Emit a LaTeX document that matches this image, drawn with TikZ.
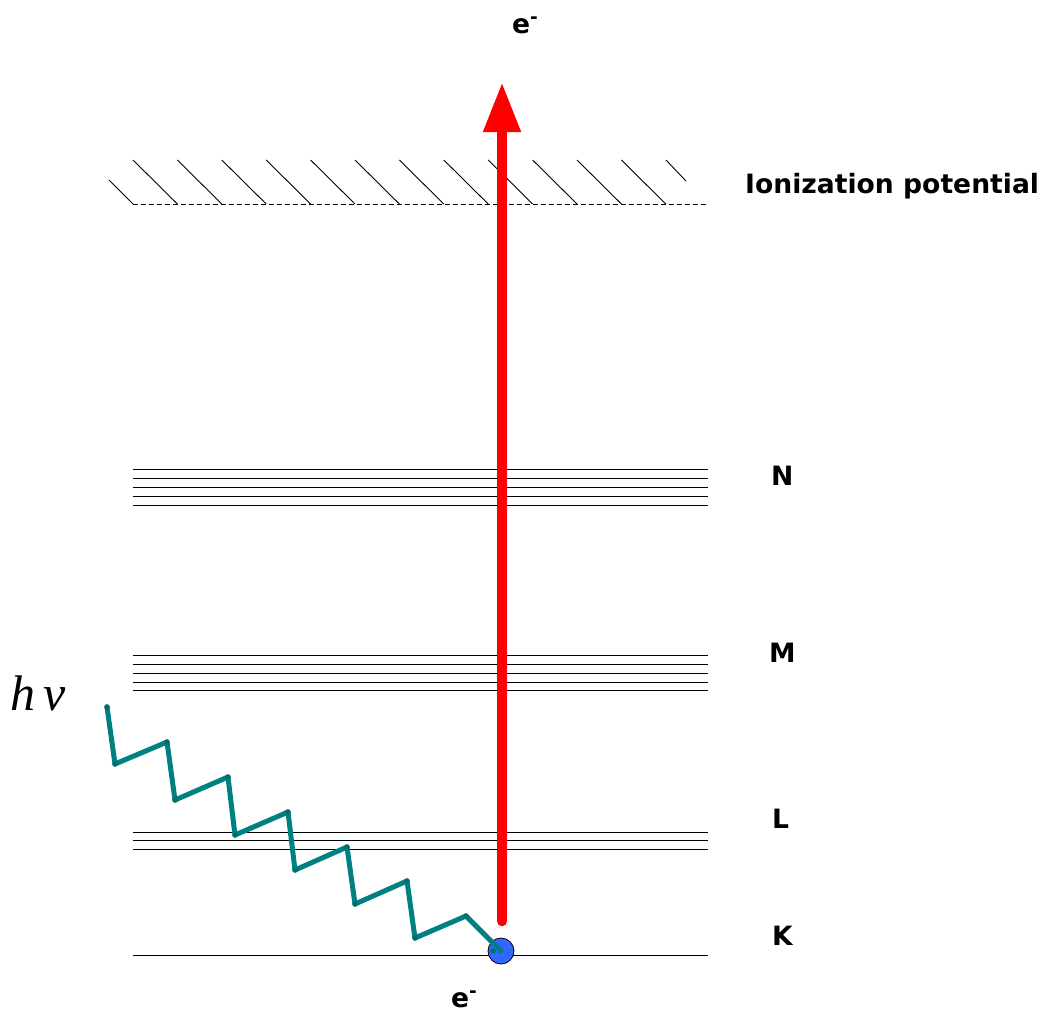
\documentclass[tikz,border=0pt]{standalone}
\usepackage{fontspec}
\setmainfont{DejaVu Sans}
\newfontfamily\hvfont{Liberation Serif}
\usetikzlibrary{arrows.meta}
\definecolor{wavecol}{RGB}{0,128,128}
\definecolor{elcol}{RGB}{51,102,255}
\definecolor{arrowred}{RGB}{255,0,0}
\begin{document}
\begin{tikzpicture}[x=1pt,y=-1pt,
  level/.style={line width=1pt, black},
  hatchline/.style={line width=0.9pt, black},
  lbl/.style={font=\fontsize{26.6}{30}\selectfont\bfseries, anchor=base west, inner sep=0pt},
  wave/.style={wavecol, line width=5pt, line join=round, line cap=round},
  vdot/.style={fill=wavecol!85!black, draw=none},
  electron/.style={circle, fill=elcol, draw=black, line width=0.8pt, minimum size=26pt, inner sep=0pt},
  ejection/.style={arrowred, line width=10.5pt, line cap=round, -{Triangle[length=50pt,width=35pt]}}
]
\useasboundingbox (0,0) rectangle (1047,1015);

% ionization potential: dashed line + hatches
\draw[hatchline, dash pattern=on 5pt off 3pt] (133,204) -- (708,204);
\draw[hatchline] (109,180) -- (133,204);
\foreach \k in {1,...,12}{
  \draw[hatchline] ({133+44.4*(\k-1)},160) -- ({133+44.4*\k},204);
}
\draw[hatchline] (666,160) -- (686,181);

% N shell
\foreach \y in {469,478,487,496,505}{ \draw[level] (133,\y) -- (708,\y); }
% M shell
\foreach \y in {655,664,673,682,690}{ \draw[level] (133,\y) -- (708,\y); }
% L shell
\foreach \y in {832,840,849}{ \draw[level] (133,\y) -- (708,\y); }
% K shell
\draw[level] (133,955) -- (708,955);

% ejected electron arrow
\coordinate (start) at (502,921);
\coordinate (tip) at (502,82);
\draw[ejection] (start) -- (tip);

% electron
\node[electron] (el) at (501,951) {};

% photon wave
\coordinate (w0) at (107,707);
\draw[wave] (w0) -- (115,764) -- (167,742) -- (175,800) -- (228,777) -- (235,835)
  -- (288,812) -- (295,870) -- (347,847) -- (355,904) -- (407,881) -- (415,938)
  -- (466,916) -- (el.center);
\foreach \p in {(107,707),(115,764),(167,742),(175,800),(228,777),(235,835),(288,812),(295,870),(347,847),(355,904),(407,881),(415,938),(466,916),(493,951)}{
  \fill[vdot] \p circle (2.8pt);
}

% labels
\node[lbl] (ion) at (745,193) {Ionization potential};
\node[lbl] (N) at (771,485) {N};
\node[lbl] (M) at (769,662) {M};
\node[lbl] (L) at (772,828) {L};
\node[lbl] (K) at (772,945) {K};
\node[lbl] (etop) at (512,33) {e\textsuperscript{-}};
\node[lbl] (ebot) at (451,1007) {e\textsuperscript{-}};
\node[anchor=base west, inner sep=0pt, font=\hvfont\itshape\fontsize{50}{56}\selectfont] (hv) at (10,710) {h\,ν};
\end{tikzpicture}
\end{document}
